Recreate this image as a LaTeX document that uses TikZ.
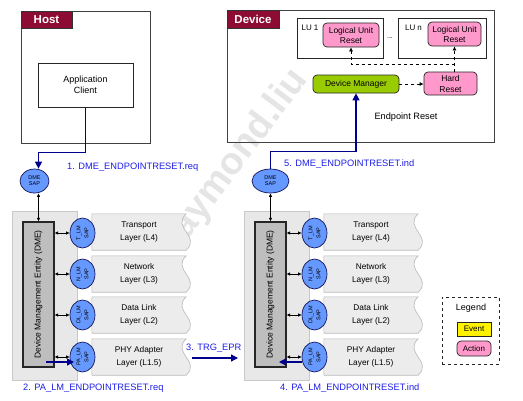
\documentclass[tikz,border=0pt]{standalone}
\usepackage{fontspec}
\setmainfont{Liberation Sans}
\usepackage{graphicx}
\usetikzlibrary{arrows.meta,shapes.geometric,calc}
\definecolor{maroonc}{RGB}{140,12,52}
\definecolor{sapblue}{RGB}{102,153,255}
\definecolor{sapborder}{RGB}{20,20,90}
\definecolor{navyc}{RGB}{0,0,140}
\definecolor{bluetext}{RGB}{30,30,235}
\definecolor{dmgreen}{RGB}{153,204,0}
\definecolor{pinkc}{RGB}{255,153,204}
\definecolor{layerfill}{RGB}{236,236,236}
\definecolor{layerborder}{RGB}{185,185,185}
\definecolor{stackfill}{RGB}{232,232,232}
\definecolor{stackborder}{RGB}{200,200,200}
\definecolor{dmegray}{RGB}{190,190,190}
\pgfdeclarelayer{bg}
\pgfsetlayers{bg,main}
\newcommand\lyrshape[1]{%
  \draw[layershape] (#1.north west) -- (#1.north east)
    .. controls ($(#1.north east)+(-15,14)$) and ($(#1.south east)+(15,-14)$) .. (#1.south east)
    -- (#1.south west) -- cycle;}
\begin{document}
\begin{tikzpicture}[x=1pt,y=-1pt,
  hdr/.style={fill=maroonc,draw=black!80,line width=0.7pt,text=white,font=\bfseries\fontsize{11.5}{12}\selectfont,inner sep=0},
  plainbox/.style={draw=black!85,line width=0.7pt,inner sep=0,fill=white,align=center},
  pinkbox/.style={fill=pinkc,draw=black!85,rounded corners=4pt,line width=0.7pt,inner sep=0,align=center,font=\fontsize{8.5}{10}\selectfont},
  sap/.style={ellipse,fill=sapblue,draw=sapborder,line width=0.7pt,inner sep=0,align=center,font=\fontsize{5.5}{6}\selectfont},
  stackbg/.style={fill=stackfill,draw=stackborder,line width=0.5pt,inner sep=0},
  dmebox/.style={fill=dmegray,draw=black!85,line width=1.2pt,inner sep=0,minimum width=31pt,minimum height=145pt,font=\fontsize{8.5}{10}\selectfont},
  layer/.style={draw=none,inner sep=0,minimum width=94pt,minimum height=36pt,align=center,font=\fontsize{8.3}{13}\selectfont},
  layershape/.style={fill=layerfill,draw=layerborder,line width=0.6pt},
  bluearrow/.style={draw=navyc,line width=1.3pt,-{Triangle[length=7pt,width=7pt]}},
  dblarrow/.style={draw=black,line width=0.9pt,{Latex[length=3.5pt,width=3.5pt]}-{Latex[length=3.5pt,width=3.5pt]}},
  dasharrow/.style={draw=black,line width=0.7pt,dashed,-{Latex[length=4pt,width=4pt]}},
  bluelbl/.style={text=bluetext,font=\fontsize{9.3}{10}\selectfont,anchor=west,inner sep=0},
  txt/.style={inner sep=0,align=center}]
\useasboundingbox (0,0) rectangle (523,400);
\begin{pgfonlayer}{bg}
\fill[white] (0,0) rectangle (523,400);
\node[rotate=53,text=black!10,font=\bfseries\fontsize{38}{38}\selectfont] (wm) at (236,160) {raymond.liu};
\end{pgfonlayer}

% ---------- Host ----------
\node[plainbox,draw=black!75,minimum width=129pt,minimum height=132pt,fill=none] (host) at (85.5,77) {};
\node[hdr,minimum width=51pt,minimum height=17pt] (hostlbl) at (46.5,19.5) {Host};
\node[plainbox,minimum width=95pt,minimum height=44pt,font=\fontsize{9}{10.5}\selectfont] (app) at (85.5,85) {Application\\Client};

% ---------- Device ----------
\node[plainbox,draw=black!75,minimum width=267pt,minimum height=132pt,fill=none] (dev) at (360.5,76) {};
\node[hdr,minimum width=52pt,minimum height=18pt] (devlbl) at (253,19) {Device};
\node[plainbox,minimum width=86pt,minimum height=40pt] (lu1) at (340,38) {};
\node[plainbox,minimum width=88pt,minimum height=40pt] (lun) at (442,38) {};
\node[txt,font=\fontsize{8}{9}\selectfont] (lu1lbl) at (310,28) {LU 1};
\node[txt,font=\fontsize{8}{9}\selectfont] (lunlbl) at (413.5,28) {LU n};
\node[pinkbox,minimum width=56pt,minimum height=24pt] (pink1) at (351,35) {Logical Unit\\Reset};
\node[pinkbox,minimum width=53pt,minimum height=24pt] (pinkn) at (454.5,34) {Logical Unit\\Reset};
\node[txt,font=\fontsize{7}{8}\selectfont] (dots) at (390,38) {...};
\node[pinkbox,fill=dmgreen,minimum width=86pt,minimum height=18pt] (dm) at (356,84) {Device Manager};
\node[pinkbox,minimum width=53pt,minimum height=23pt,font=\fontsize{8.5}{11}\selectfont] (hr) at (450.5,83.5) {Hard\\Reset};
\node[txt,font=\fontsize{9.2}{10}\selectfont] (eprlbl) at (406,117) {Endpoint Reset};
\coordinate (j) at (454.5,64);
\draw[dasharrow] (dm.east) -- (hr.west |- dm.east);
\draw[dasharrow] (pinkn.south |- hr.north) -- (pinkn.south);
\draw[dasharrow] (j) -| (pink1.south);

% ---------- Left stack ----------
\node[stackbg,minimum width=65pt,minimum height=169pt] (bgL) at (44.5,295.5) {};
\node[dmebox] (dmeL) at (38.5,294.5) {\rotatebox{90}{Device Management Entity (DME)}};
\node[sap,minimum width=29pt,minimum height=24pt] (dmesapL) at (34.5,181) {DME\\SAP};
\node[layer] (l4L) at (139,232) {Transport\\Layer (L4)};
\node[layer] (l3L) at (139,274) {Network\\Layer (L3)};
\node[layer] (l2L) at (139,315) {Data Link\\Layer (L2)};
\node[layer] (l1L) at (139,357) {PHY Adapter\\Layer (L1.5)};
\begin{pgfonlayer}{bg}
\lyrshape{l4L}\lyrshape{l3L}\lyrshape{l2L}\lyrshape{l1L}
\end{pgfonlayer}
\node[sap,minimum width=25pt,minimum height=30pt] (tL) at (82.5,233) {\rotatebox{90}{\shortstack{T\_LM\\SAP}}};
\node[sap,minimum width=25pt,minimum height=30pt] (nL) at (82.5,274) {\rotatebox{90}{\shortstack{N\_LM\\SAP}}};
\node[sap,minimum width=25pt,minimum height=30pt] (dlL) at (82.5,315) {\rotatebox{90}{\shortstack{DL\_LM\\SAP}}};
\node[sap,minimum width=25pt,minimum height=30pt] (paL) at (82.5,357) {\rotatebox{90}{\shortstack{PA\_LM\\SAP}}};
\draw[dblarrow] (dmeL.north |- dmesapL.south) -- (dmeL.north);
\foreach \s in {tL,nL,dlL,paL}{\draw[dblarrow] (dmeL.east |- \s.west) -- (\s.west);}

% ---------- Right stack ----------
\node[stackbg,minimum width=65pt,minimum height=169pt] (bgR) at (276.5,295.5) {};
\node[dmebox] (dmeR) at (270.5,294.5) {\rotatebox{90}{Device Management Entity (DME)}};
\node[sap,minimum width=37pt,minimum height=24pt] (dmesapR) at (270.5,181) {DME\\SAP};
\node[layer] (l4R) at (371,232) {Transport\\Layer (L4)};
\node[layer] (l3R) at (371,274) {Network\\Layer (L3)};
\node[layer] (l2R) at (371,315) {Data Link\\Layer (L2)};
\node[layer] (l1R) at (371,357) {PHY Adapter\\Layer (L1.5)};
\begin{pgfonlayer}{bg}
\lyrshape{l4R}\lyrshape{l3R}\lyrshape{l2R}\lyrshape{l1R}
\end{pgfonlayer}
\node[sap,minimum width=25pt,minimum height=30pt] (tR) at (314.5,233) {\rotatebox{90}{\shortstack{T\_LM\\SAP}}};
\node[sap,minimum width=25pt,minimum height=30pt] (nR) at (314.5,274) {\rotatebox{90}{\shortstack{N\_LM\\SAP}}};
\node[sap,minimum width=25pt,minimum height=30pt] (dlR) at (314.5,315) {\rotatebox{90}{\shortstack{DL\_LM\\SAP}}};
\node[sap,minimum width=25pt,minimum height=30pt] (paR) at (314.5,357) {\rotatebox{90}{\shortstack{PA\_LM\\SAP}}};
\draw[dblarrow] (dmeR.north |- dmesapR.south) -- (dmeR.north);
\foreach \s in {tR,nR,dlR,paR}{\draw[dblarrow] (dmeR.east |- \s.west) -- (\s.west);}

% ---------- Blue flows ----------
\draw[bluearrow] (app.south) -- ++(0,45) -| (dmeL.north |- dmesapL.north);
\node[bluelbl] (lbl1) at (67,167) {1. DME\_ENDPOINTRESET.req};
\coordinate (a2s) at (46,362);
\coordinate (a2e) at (74,362);
\draw[bluearrow] (a2s) -- (a2e);
\node[bluelbl] (lbl2) at (23,388) {2. PA\_LM\_ENDPOINTRESET.req};
\coordinate (a3s) at (192,358);
\coordinate (a3e) at (238,358);
\draw[bluearrow] (a3s) -- (a3e);
\node[bluelbl] (lbl3) at (186,348) {3. TRG\_EPR};
\coordinate (a4e) at (279,362);
\draw[bluearrow] (paR.west |- a4e) -- (a4e);
\node[bluelbl] (lbl4) at (280,388) {4. PA\_LM\_ENDPOINTRESET.ind};
\draw[bluearrow] (dmesapR.north) -- ++(0,-17) -| (dm.south);
\node[bluelbl] (lbl5) at (284,164) {5. DME\_ENDPOINTRESET.ind};

% ---------- Legend ----------
\node[draw=black!85,dashed,line width=0.8pt,minimum width=57pt,minimum height=67pt,inner sep=0] (legend) at (470.5,330.5) {};
\node[txt,font=\fontsize{9}{10}\selectfont] (legtitle) at (471,308) {Legend};
\node[plainbox,fill=yellow,minimum width=34pt,minimum height=14pt,font=\fontsize{8}{9}\selectfont] (event) at (474,329) {Event};
\node[pinkbox,minimum width=34pt,minimum height=15pt,font=\fontsize{8}{9}\selectfont] (action) at (474,348.5) {Action};
\end{tikzpicture}
\end{document}
